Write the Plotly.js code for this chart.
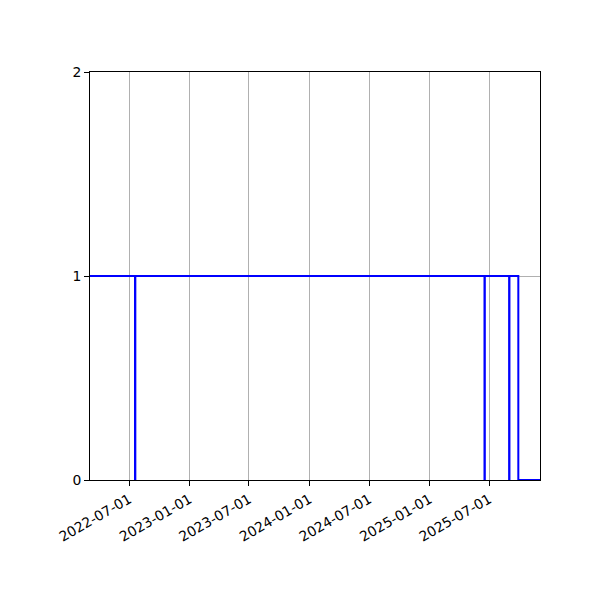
<!DOCTYPE html>
<html>
<head>
<meta charset="utf-8">
<script src="https://cdn.plot.ly/plotly-3.0.1.min.js"></script>
<style>html,body{margin:0;padding:0;background:#fff;}#chart{width:600px;height:600px;}</style>
</head>
<body>
<div id="chart"></div>
<script>
const dates = ["2022-03-04","2022-07-19","2022-07-20","2025-06-17","2025-06-18","2025-08-31","2025-09-01","2025-09-28","2025-12-03"];
const values = [1,0,1,0,1,0,1,0,0];
const xTickVals = ["2022-07-01","2023-01-01","2023-07-01","2024-01-01","2024-07-01","2025-01-01","2025-07-01"];
const xTickText = ["2022-07-01","2023-01-01","2023-07-01","2024-01-01","2024-07-01","2025-01-01","2025-07-01"];
const yTickVals = [0,1,2];

const trace = {
  x: dates, y: values, type: "scatter", mode: "lines",
  line: {color: "#0000ff", width: 2, shape: "hv"},
  hoverinfo: "skip"
};
const layout = {
  width: 600, height: 600,
  margin: {l: 90, r: 60, t: 72, b: 120},
  paper_bgcolor: "#fff", plot_bgcolor: "#fff",
  font: {family: "DejaVu Sans", size: 13.9, color: "#000"},
  showlegend: false,
  xaxis: {
    type: "date", range: ["2022-03-04","2025-12-03"],
    tickmode: "array", tickvals: xTickVals, ticktext: xTickText,
    tickangle: -30, ticks: "outside", ticklen: 5, tickcolor: "#000",
    showgrid: true, gridcolor: "#b0b0b0", gridwidth: 1,
    showline: true, linecolor: "#000", linewidth: 1, mirror: true,
    zeroline: false
  },
  yaxis: {
    range: [0, 2], tickmode: "array", tickvals: yTickVals, ticktext: ["0","1","2"],
    ticks: "outside", ticklen: 5, tickcolor: "#000",
    showgrid: true, gridcolor: "#b0b0b0", gridwidth: 1,
    showline: true, linecolor: "#000", linewidth: 1, mirror: true,
    zeroline: false
  }
};
Plotly.newPlot("chart", [trace], layout, {staticPlot: true, displayModeBar: false});
</script>
</body>
</html>
